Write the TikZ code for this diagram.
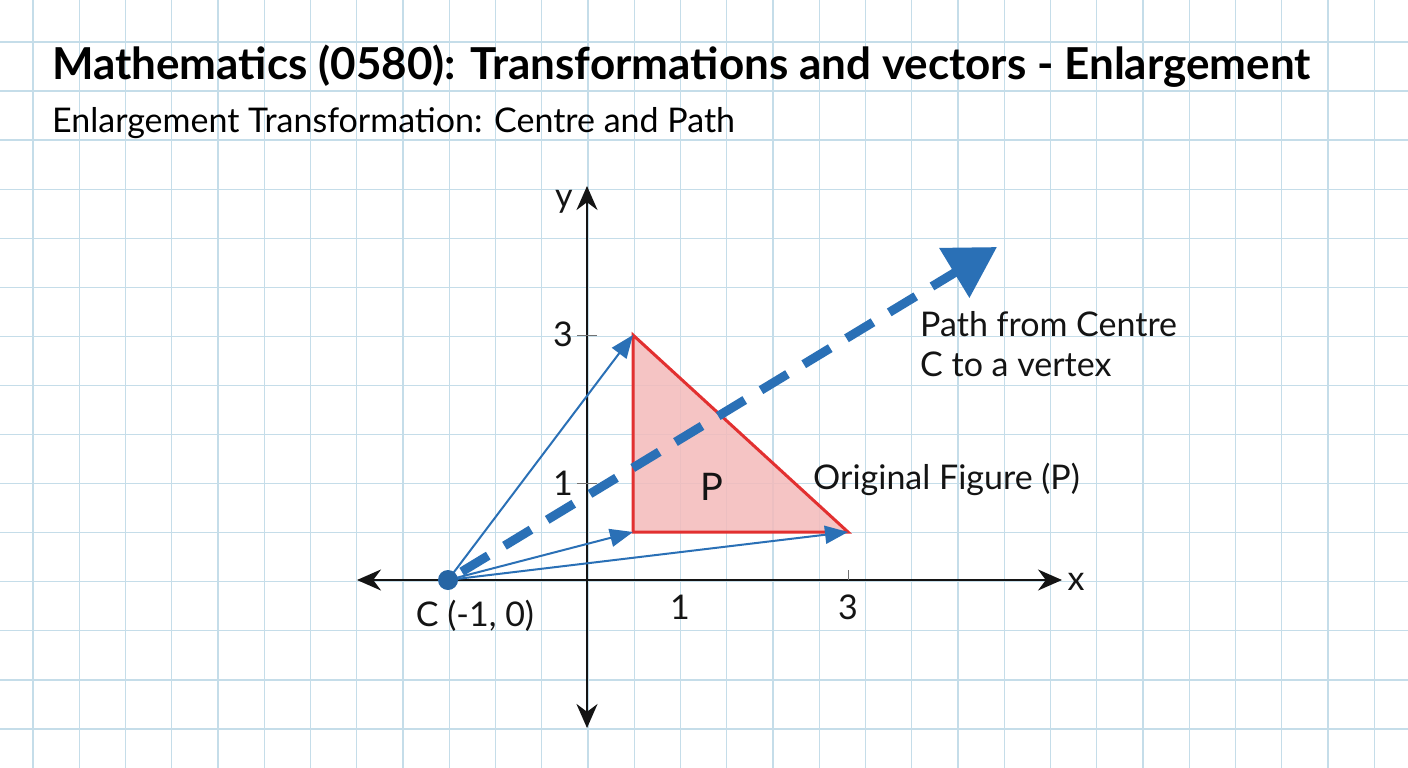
\documentclass[tikz,border=0pt]{standalone}
\usepackage{fontspec}
\setmainfont{Lato}
\usetikzlibrary{arrows.meta,calc}
\definecolor{gridc}{RGB}{197,221,233}
\definecolor{pathblue}{RGB}{42,112,182}
\definecolor{trired}{RGB}{226,48,48}
\definecolor{trifill}{RGB}{244,186,186}
\definecolor{ink}{RGB}{20,20,20}
\tikzset{
  gridline/.style={gridc,line width=1.3pt},
  axis/.style={ink,line width=2.2pt},
  axtip/.style={-{Stealth[length=24pt,width=21pt]}},
  lbl/.style={inner sep=0pt,text=ink,font=\fontsize{34}{40}\selectfont},
  vecarrow/.style={pathblue,line width=2pt,-{Triangle[length=23pt,width=18pt]}},
  bigpath/.style={pathblue,line width=9pt,dash pattern=on 31pt off 19pt,-{Triangle[length=50pt,width=56pt]}},
  tick/.style={ink!60,line width=1pt}
}
\begin{document}
\begin{tikzpicture}[x=1pt,y=-1pt]
\useasboundingbox (0,0) rectangle (1408,768);
\fill[white] (0,0) rectangle (1408,768);
% grid
\foreach \k in {0,...,29} {\draw[gridline] ({33+46.25*\k},0) -- ({33+46.25*\k},768);}
\foreach \k in {0,...,15} {\draw[gridline] (0,{42+49.07*\k}) -- (1408,{42+49.07*\k});}
% titles
\node[anchor=base west,inner sep=0pt,text=black,font=\fontsize{44}{50}\selectfont\bfseries] (title) at (52,80) {Mathematics (0580): Transformations and vectors - Enlargement};
\node[anchor=base west,inner sep=0pt,text=black,font=\fontsize{34}{40}\selectfont] (subtitle) at (52,132) {Enlargement Transformation: Centre and Path};
% axes
\coordinate (O) at (587,580);
\coordinate (xl) at (357,580);
\coordinate (xr) at (1062,580);
\coordinate (yt) at (587,186);
\coordinate (yb) at (587,728);
\draw[axis,axtip] (O) -- (xr);
\draw[axis,axtip] (O) -- (xl);
\draw[axis,axtip] (O) -- (yt);
\draw[axis,axtip] (O) -- (yb);
\node[lbl] (xlab) at (1076,582) {x};
\node[lbl,anchor=base] (ylab) at (564,207) {y};
% ticks
\draw[tick] (577,335) -- (597,335);
\draw[tick] (577,483) -- (597,483);
\draw[tick] (848,570) -- (848,580);
\node[lbl] (y3) at (563,334) {3};
\node[lbl] (y1) at (563,483) {1};
\node[lbl] (x1) at (680,607) {1};
\node[lbl] (x3) at (848,607) {3};
% triangle
\coordinate (A) at (633,335);
\coordinate (B) at (633,532);
\coordinate (D) at (848,532);
\filldraw[fill=trifill,fill opacity=0.85,draw=trired,line width=3pt,line join=miter] (A) -- (B) -- (D) -- cycle;
\node[lbl,font=\fontsize{38}{44}\selectfont] (P) at (712,487) {P};
% centre
\coordinate (C) at (448,580);
\coordinate (T) at (997,247);
\draw[bigpath] ($(C)!0.025!(T)$) -- (T);
\draw[vecarrow] (C) -- (A);
\draw[vecarrow] (C) -- (B);
\draw[vecarrow] (C) -- (D);
\fill[pathblue!90!black] (C) circle (10);
\node[lbl,anchor=base] (clab) at (475,626) {C (-1, 0)};
% annotations
\node[lbl,anchor=north west,align=left] (pathlab) at (920,311) {Path from Centre\\C to a vertex};
\node[lbl,anchor=base west] (origlab) at (813,489) {Original Figure (P)};
\end{tikzpicture}
\end{document}
